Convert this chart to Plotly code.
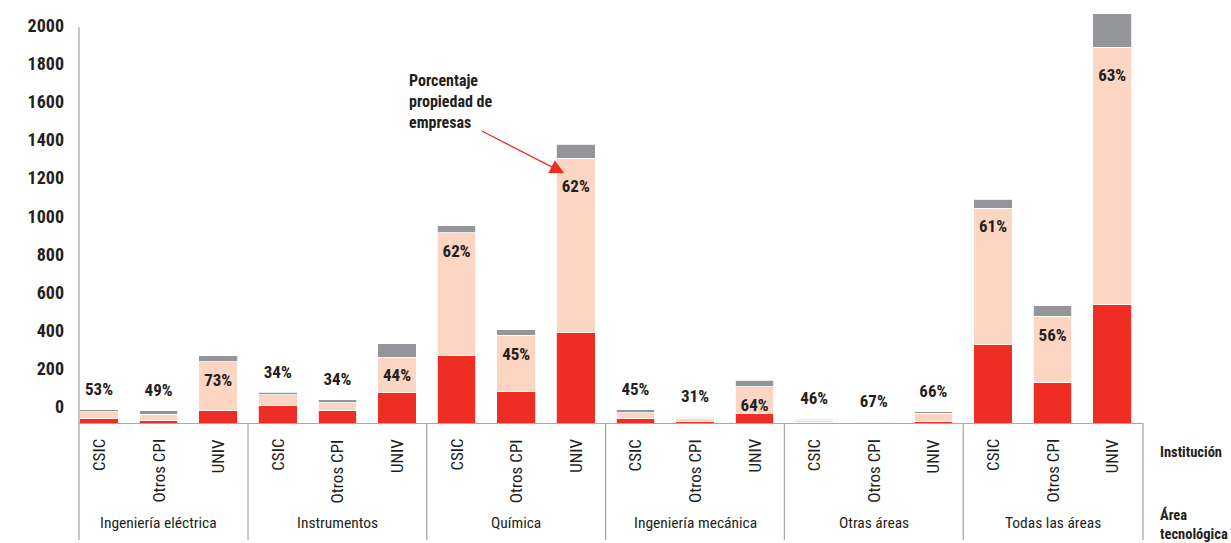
import plotly.graph_objects as go

# Patentes por área tecnológica e institución: tramos apilados por titularidad
areas = ["Ingeniería eléctrica", "Instrumentos", "Química",
         "Ingeniería mecánica", "Otras áreas", "Todas las áreas"]
instituciones = ["CSIC", "Otros CPI", "UNIV"]

# Valores por barra (orden: área, después institución)
titularidad_propia = [23, 15, 63, 92, 64, 162, 355, 167, 474,
                      22, 8, 48, 5, 2, 9, 413, 214, 619]
con_empresas = [37, 31, 258, 55, 42, 183, 641, 292, 913,
                31, 16, 142, 9, 6, 43, 713, 345, 1350]
otras = [10, 17, 32, 14, 17, 70, 38, 31, 75,
         16, 7, 33, 6, 1, 8, 47, 55, 175]
porcentaje_empresas = [53, 49, 73, 34, 34, 44, 62, 45, 62,
                       45, 31, 64, 46, 67, 66, 61, 56, 63]

tick_vals = [0, 200, 400, 600, 800, 1000, 1200, 1400, 1600, 1800, 2000]

RED = "#EE2E24"
PINK = "#FCD5C3"
GREY = "#939598"
INK = "#231F20"
LINE = "#A7A9AC"
FONT = "Liberation Sans Narrow, Roboto Condensed, DejaVu Sans Condensed, Arial Narrow, sans-serif"

W, H = 1231, 543
M_L, M_R, M_T, M_B = 79, 88, 10, 120
Y_MAX = 2164.6
X_RANGE = [-0.336, 17.517]
plot_h = H - M_T - M_B
px_per_unit = plot_h / Y_MAX

n_inst = len(instituciones)
xs = list(range(len(areas) * n_inst))

fig = go.Figure()
for vals, color, name in [(titularidad_propia, RED, "Titularidad propia"),
                          (con_empresas, PINK, "Compartida con empresas"),
                          (otras, GREY, "Otras")]:
    fig.add_trace(go.Bar(
        x=xs, y=vals, name=name, width=0.65,
        marker=dict(color=color, line=dict(color="white", width=0.8)),
        hoverinfo="skip",
    ))

# Etiquetas de porcentaje: encima de barras bajas, dentro del tramo rosa en las altas
lab_y = []
for r, p, g in zip(titularidad_propia, con_empresas, otras):
    total = r + p + g
    if total < 200:
        lab_y.append(total + 19 / px_per_unit)
    elif total > 1400:
        lab_y.append(r + p - 29 / px_per_unit)
    else:
        lab_y.append(r + p - 20 / px_per_unit)
fig.add_trace(go.Scatter(
    x=xs, y=lab_y, mode="text",
    text=[f"{v}%" for v in porcentaje_empresas],
    textfont=dict(family=FONT, size=17, color=INK, weight="bold"),
    hoverinfo="skip", showlegend=False,
))

shapes = []
# eje vertical
shapes.append(dict(type="line", xref="x domain", yref="y", x0=0, x1=0,
                   y0=0, y1=2075, line=dict(color=LINE, width=1.3)))
# separadores de grupo bajo el eje
sep_y = -(540 - (H - M_B)) / plot_h
for xd in [0, 1]:
    shapes.append(dict(type="line", xref="x domain", yref="paper", x0=xd, x1=xd,
                       y0=0, y1=sep_y, line=dict(color=LINE, width=1.3)))
for k in range(1, len(areas)):
    xsep = k * n_inst - 0.5
    shapes.append(dict(type="line", xref="x", yref="paper", x0=xsep, x1=xsep,
                       y0=0, y1=sep_y, line=dict(color=LINE, width=1.3)))

def py(pix):
    """Posición vertical en coordenadas de papel a partir de un píxel de la página."""
    return (H - M_B - pix) / plot_h

def px(pix):
    return (pix - M_L) / (W - M_L - M_R)

annotations = []
for i, x in enumerate(xs):
    annotations.append(dict(
        x=x, y=py(437), xref="x", yref="paper", text=instituciones[i % n_inst],
        textangle=-90, xanchor="center", yanchor="top", showarrow=False,
        font=dict(family=FONT, size=17, color=INK),
    ))
for a, area in enumerate(areas):
    annotations.append(dict(
        x=a * n_inst + 1, y=py(523), xref="x", yref="paper", text=area,
        xanchor="center", yanchor="middle", showarrow=False,
        font=dict(family=FONT, size=15.5, color=INK),
    ))
annotations.append(dict(
    x=px(1158), y=py(452), xref="paper", yref="paper", text="Institución",
    xanchor="left", yanchor="middle", showarrow=False, align="left",
    font=dict(family=FONT, size=14.5, color=INK, weight="bold"),
))
annotations.append(dict(
    x=px(1158), y=py(524), xref="paper", yref="paper", text="Área<br>tecnológica",
    xanchor="left", yanchor="middle", showarrow=False, align="left",
    font=dict(family=FONT, size=14.5, color=INK, weight="bold"),
))
annotations.append(dict(
    x=px(407), y=py(69), xref="paper", yref="paper",
    text="Porcentaje<br>propiedad de<br>empresas",
    xanchor="left", yanchor="top", showarrow=False, align="left",
    font=dict(family=FONT, size=16, color=INK, weight="bold"),
))
annotations.append(dict(
    x=7.807, y=1309, xref="x", yref="y", text="", showarrow=True,
    ax=-84, ay=-43, axref="pixel", ayref="pixel",
    arrowhead=2, arrowsize=2.2, arrowwidth=1.3, arrowcolor=RED,
))

fig.update_layout(
    width=W, height=H, barmode="stack", showlegend=False,
    margin=dict(l=M_L, r=M_R, t=M_T, b=M_B, autoexpand=False),
    paper_bgcolor="white", plot_bgcolor="white",
    shapes=shapes, annotations=annotations,
    xaxis=dict(range=X_RANGE, showticklabels=False, ticks="", showgrid=False,
               zeroline=False, showline=True, linecolor=LINE, linewidth=1.3),
    yaxis=dict(range=[0, Y_MAX], tickvals=tick_vals, showgrid=False, zeroline=False,
               showline=False, ticks="", ticklabelshift=-16, ticklabelstandoff=14,
               tickfont=dict(family=FONT, size=18, color=INK, weight="bold")),
)

fig.write_html("out.html")
